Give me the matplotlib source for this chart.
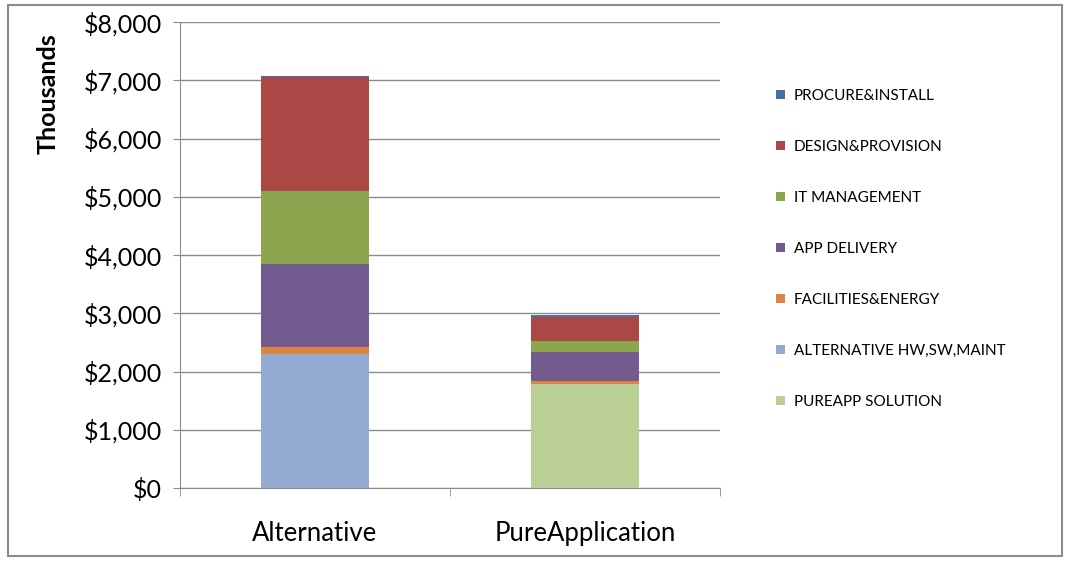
import matplotlib
matplotlib.use("Agg")
import matplotlib.pyplot as plt
from matplotlib.patches import Rectangle, Patch
from matplotlib.ticker import FuncFormatter, MultipleLocator
import numpy as np

categories = ["Alternative", "PureApplication"]
series_names = ["PUREAPP SOLUTION", "ALTERNATIVE HW,SW,MAINT", "FACILITIES&ENERGY",
                "APP DELIVERY", "IT MANAGEMENT", "DESIGN&PROVISION", "PROCURE&INSTALL"]
pureapp_solution = [0, 1790]
alternative_hw = [2300, 0]
facilities = [115, 42]
app_delivery = [1436, 508]
it_management = [1248, 184]
design_provision = [1956, 416]
procure_install = [25, 30]
series_values = [pureapp_solution, alternative_hw, facilities, app_delivery,
                 it_management, design_provision, procure_install]
colors = ["#B9CF96", "#95AAD1", "#DD8440", "#735A8F", "#8BA64E", "#AB4744", "#4570A5"]

plt.rcParams['font.family'] = ['Lato', 'DejaVu Sans']

fig = plt.figure(figsize=(10.68, 5.61), dpi=100)
W, H = 1068, 561
ax = fig.add_axes([180 / W, 1 - 488 / H, 540 / W, 466 / H])

x = np.arange(len(categories))
bottom = np.zeros(len(categories))
for name, vals, c in zip(series_names, series_values, colors):
    v = np.array(vals, dtype=float)
    ax.bar(x, v, width=0.4, bottom=bottom, color=c, label=name, zorder=3)
    bottom += v

ax.set_xlim(-0.5, 1.5)
ax.set_ylim(0, 8000)
ax.yaxis.set_major_locator(MultipleLocator(1000))
ax.yaxis.set_major_formatter(FuncFormatter(lambda v, p: "${:,.0f}".format(v)))
ax.grid(axis='y', color='#8C8C8C', linewidth=1.0, zorder=0)
for s in ['top', 'right']:
    ax.spines[s].set_visible(False)
ax.spines['left'].set_color('#8C8C8C')
ax.spines['bottom'].set_color('#8C8C8C')
ax.tick_params(axis='y', length=5, color='#8C8C8C', labelsize=18, pad=8)
ax.set_xticks(x)
ax.set_xticklabels(categories, fontsize=18.5)
ax.tick_params(axis='x', length=0, pad=24)
ax.set_xticks([-0.5, 0.5, 1.5], minor=True)
ax.tick_params(axis='x', which='minor', length=6, color='#8C8C8C')

fig.text(48 / W, 1 - 94 / H, "Thousands", rotation=90, fontsize=18, fontweight='bold',
         ha='center', va='center')

handles = [Patch(facecolor=c) for c in colors][::-1]
labels = series_names[::-1]
fig.legend(handles, labels, loc='upper left', bbox_to_anchor=(776 / W, 1 - 89 / H),
           frameon=False, fontsize=11, handlelength=0.6, handleheight=0.6,
           handletextpad=0.55, labelspacing=2.42, borderaxespad=0, borderpad=0)

fig.add_artist(Rectangle((8 / W, 5 / H), 1054 / W, 551 / H, transform=fig.transFigure,
                         fill=False, edgecolor='#8C8C8C', linewidth=1.5))

fig.savefig("out.png", dpi=100)
